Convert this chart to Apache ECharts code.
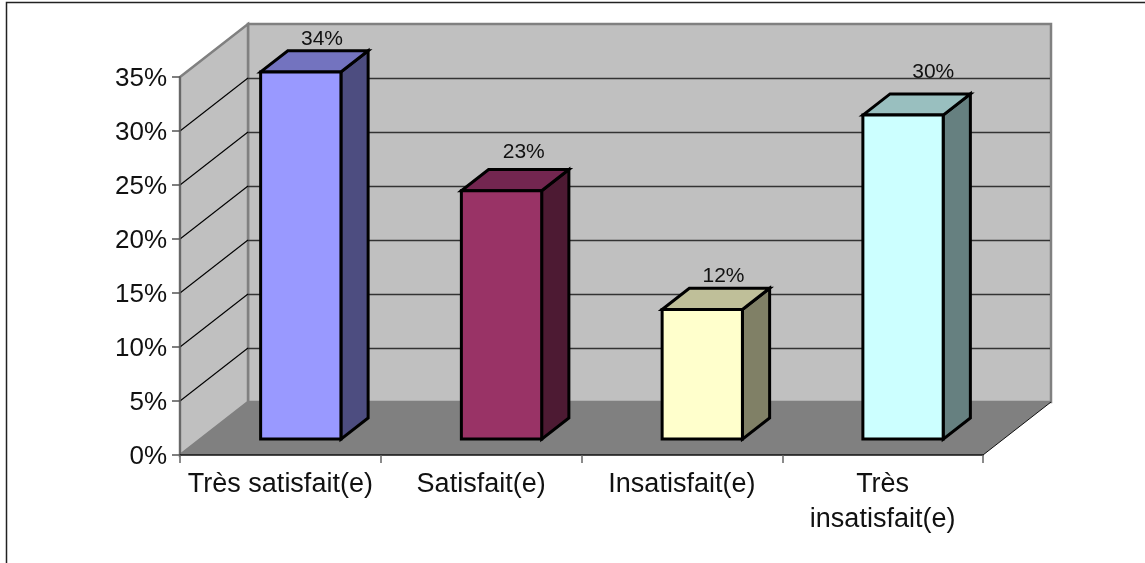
<!DOCTYPE html>
<html>
<head>
<meta charset="utf-8">
<style>html,body{margin:0;padding:0;background:#fff}#chart{width:1145px;height:563px}</style>
<script src="https://cdn.jsdelivr.net/npm/echarts@6/dist/echarts.min.js"></script>
</head>
<body>
<div id="chart"></div>
<script>
// Satisfaction survey results, in percent
const categories = ['Très satisfait(e)', 'Satisfait(e)', 'Insatisfait(e)', 'Très\ninsatisfait(e)'];
const shares = [34, 23, 12, 30];
const gridValues = [5, 10, 15, 20, 25, 30];

// Face colours per bar: front, top (darker), side (darkest)
const frontColors = ['#9999ff', '#993366', '#ffffcc', '#ccffff'];
const topColors = ['#7373bf', '#732650', '#bfbf99', '#99bfbf'];
const sideColors = ['#4d4d80', '#4d1a33', '#808066', '#668080'];

// Pixel nudges for the value labels, from the middle of each bar's back top edge
const labelNudges = [[-6, -11], [-5, -17], [-6, -12], [3, -22]];

// Oblique projection of the box: how far the back wall sits from the front plane
const DEPTH_X = 68;
const DEPTH_Y = -53;
const FONT = '"Liberation Sans", Arial, sans-serif';

function poly(points, fill, stroke, lineWidth, z2) {
  return {
    type: 'polygon', z2: z2 || 0,
    shape: { points: points },
    style: { fill: fill, stroke: stroke, lineWidth: lineWidth || 0, lineJoin: 'miter' }
  };
}

function line(x1, y1, x2, y2, stroke, lineWidth, z2) {
  return {
    type: 'line', z2: z2 || 0,
    shape: { x1: x1, y1: y1, x2: x2, y2: y2 },
    style: { stroke: stroke, lineWidth: lineWidth }
  };
}

// Side wall, back wall and floor of the box
function renderBox(params, api) {
  const g = params.coordSys;
  const left = g.x, right = g.x + g.width, top = g.y, bottom = g.y + g.height;
  const dx = DEPTH_X, dy = DEPTH_Y;
  return {
    type: 'group',
    children: [
      poly([[left + dx, top + dy], [right + dx, top + dy], [right + dx, bottom + dy], [left + dx, bottom + dy]], '#c0c0c0', '#808080', 2.5),
      poly([[left, top], [left + dx, top + dy], [left + dx, bottom + dy], [left, bottom]], '#c0c0c0', '#808080', 2.5),
      poly([[left, bottom], [left + dx, bottom + dy], [right + dx, bottom + dy], [right, bottom]], '#808080', null, 0, 1),
      line(right, bottom, right + dx, bottom + dy, '#111111', 1, 2)
    ]
  };
}

// One gridline: diagonal along the side wall, then across the back wall
function renderGridline(params, api) {
  const g = params.coordSys;
  const y = api.coord([0, api.value(0)])[1];
  return {
    type: 'group',
    children: [
      line(g.x, y, g.x + DEPTH_X, y + DEPTH_Y, '#000000', 1.1),
      line(g.x + DEPTH_X, y + DEPTH_Y + 0.5, g.x + g.width + DEPTH_X - 1, y + DEPTH_Y + 0.5, '#333333', 1.3)
    ]
  };
}

// One bar: a box standing between 30% and 70% of the floor depth
function renderBar(params, api) {
  const i = api.value(0);
  const v = api.value(1);
  const base = api.coord([i, 0]);
  const head = api.coord([i, v]);
  const w = api.size([1, 0])[0] * 0.4;
  const x0 = base[0] + DEPTH_X * 0.3 - w / 2;
  const x1 = x0 + w;
  const y0 = base[1] + DEPTH_Y * 0.3;
  const y1 = head[1] + DEPTH_Y * 0.3;
  const bx = DEPTH_X * 0.4;
  const by = DEPTH_Y * 0.4;
  const nudge = labelNudges[i];
  return {
    type: 'group',
    children: [
      poly([[x1, y1], [x1 + bx, y1 + by], [x1 + bx, y0 + by], [x1, y0]], sideColors[i], '#000', 3),
      poly([[x0, y1], [x0 + bx, y1 + by], [x1 + bx, y1 + by], [x1, y1]], topColors[i], '#000', 3),
      poly([[x0, y0], [x0, y1], [x1, y1], [x1, y0]], frontColors[i], '#000', 3),
      {
        type: 'text', z2: 5,
        style: {
          x: (x0 + x1) / 2 + bx + nudge[0],
          y: y1 + by + nudge[1],
          text: v + '%',
          fill: '#111111',
          font: '21px ' + FONT,
          align: 'center',
          verticalAlign: 'middle'
        }
      }
    ]
  };
}

const chart = echarts.init(document.getElementById('chart'), null, { renderer: 'canvas' });
chart.setOption({
  animation: false,
  backgroundColor: '#ffffff',
  grid: { left: 180, top: 77, width: 803, height: 378, containLabel: false },
  graphic: [{
    type: 'polyline', z: 10, silent: true,
    shape: { points: [[6.5, 563], [6.5, 2.5], [1145, 2.5]] },
    style: { stroke: '#222222', lineWidth: 1.5, fill: null }
  }],
  xAxis: {
    type: 'category',
    data: categories,
    z: 4,
    axisLine: { lineStyle: { color: '#111111', width: 1.5 } },
    axisTick: { show: true, alignWithLabel: false, length: 8, lineStyle: { color: '#666666', width: 1.5 } },
    axisLabel: {
      interval: 0, margin: 12, fontFamily: 'Liberation Sans', fontSize: 27, color: '#111111',
      lineHeight: 35, align: 'center'
    }
  },
  yAxis: {
    type: 'value',
    min: 0, max: 35, interval: 5,
    z: 4,
    axisLine: { show: true, lineStyle: { color: '#606060', width: 1.5 } },
    axisTick: { show: true, length: 8, lineStyle: { color: '#555555', width: 1.5 } },
    splitLine: { show: false },
    axisLabel: { margin: 13, verticalAlign: 'top', lineHeight: 4, fontFamily: 'Liberation Sans', fontSize: 26, color: '#111111', formatter: '{value}%' }
  },
  series: [
    { type: 'custom', z: 1, silent: true, clip: false, coordinateSystem: 'cartesian2d', data: [[0]], encode: { x: 0 }, renderItem: renderBox },
    { type: 'custom', z: 2, silent: true, clip: false, coordinateSystem: 'cartesian2d', data: gridValues.map(v => [v]), encode: { y: 0 }, renderItem: renderGridline },
    { type: 'custom', z: 5, silent: true, clip: false, coordinateSystem: 'cartesian2d', data: shares.map((v, i) => [i, v]), encode: { x: 0, y: 1 }, renderItem: renderBar }
  ]
});
</script>
</body>
</html>
